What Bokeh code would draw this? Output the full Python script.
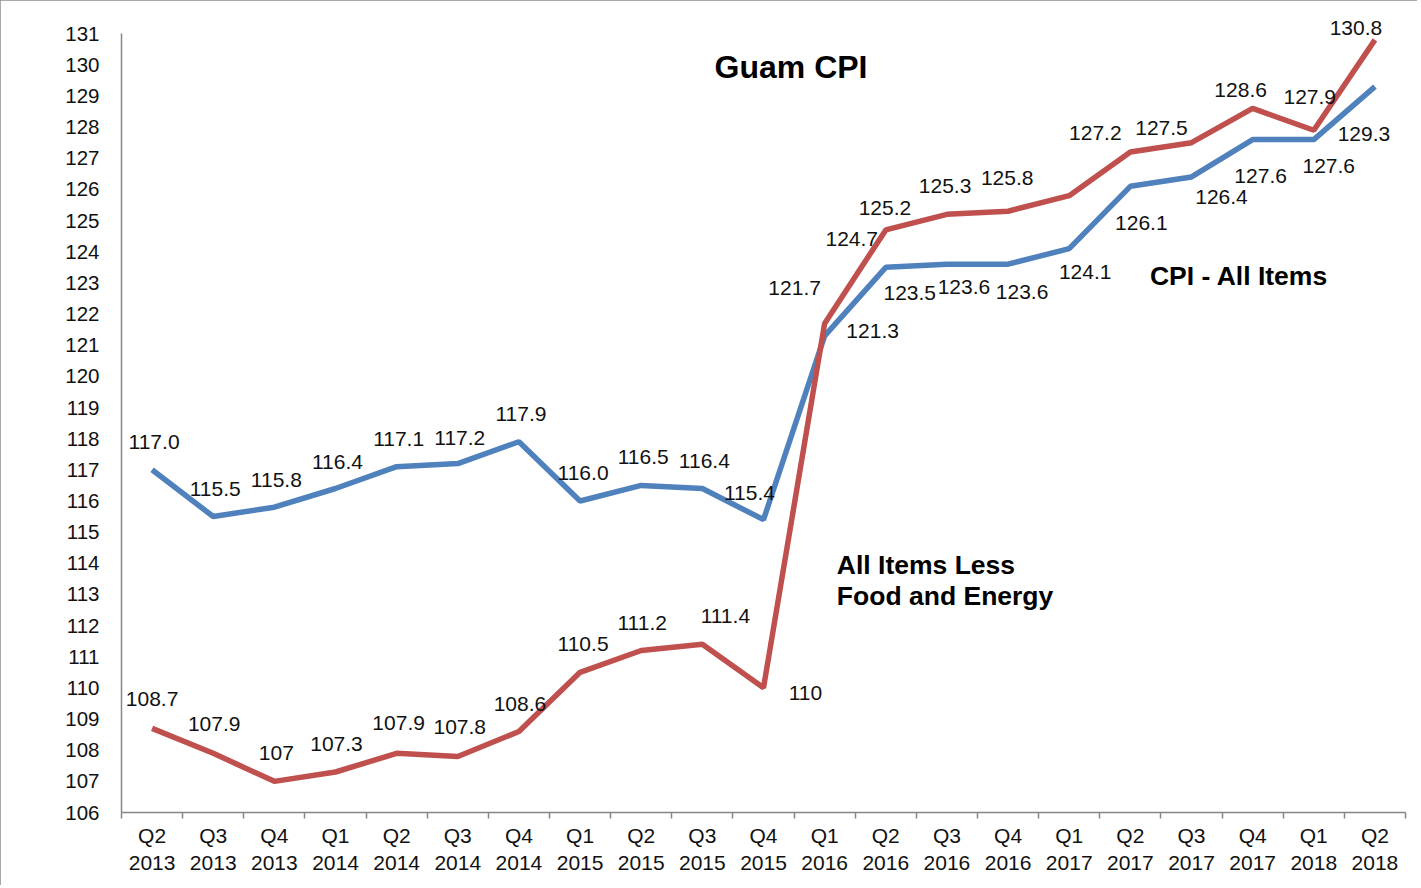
from bokeh.plotting import figure
from bokeh.models import FixedTicker, Range1d, ColumnDataSource, LabelSet
from bokeh.core.properties import value
from bokeh.embed import file_html
from bokeh.resources import INLINE

# ---- data ----
quarters = ["Q2", "Q3", "Q4", "Q1", "Q2", "Q3", "Q4", "Q1", "Q2", "Q3", "Q4",
            "Q1", "Q2", "Q3", "Q4", "Q1", "Q2", "Q3", "Q4", "Q1", "Q2"]
years = ["2013", "2013", "2013", "2014", "2014", "2014", "2014", "2015", "2015", "2015", "2015",
         "2016", "2016", "2016", "2016", "2017", "2017", "2017", "2017", "2018", "2018"]
cpi_all = [117.0, 115.5, 115.8, 116.4, 117.1, 117.2, 117.9, 116.0, 116.5, 116.4, 115.4,
           121.3, 123.5, 123.6, 123.6, 124.1, 126.1, 126.4, 127.6, 127.6, 129.3]
cpi_core = [108.7, 107.9, 107.0, 107.3, 107.9, 107.8, 108.6, 110.5, 111.2, 111.4, 110.0,
            121.7, 124.7, 125.2, 125.3, 125.8, 127.2, 127.5, 128.6, 127.9, 130.8]
y_ticks = list(range(106, 132))

# ---- label placement (screen pixel offsets, style only; dy positive = down) ----
blue_dx = [2, 2, 2, 2, 2, 2, 2, 3, 2, 2, -14, 48, 24, 17, 14, 16, 11, 30, 8, 15, -11]
blue_dy = [-28, -28, -27, -27, -28, -26, -28, -28, -28, -28, -27, -5, 26, 23, 28, 23, 37, 20, 36, 26, 47]
red_dx = [0, 1, 2, 1, 2, 2, 1, 3, 1, 23, 42, -30, -34, -62, -63, -62, -35, -30, -12, -4, -19]
red_dy = [-29, -29, -28, -28, -30, -29, -28, -28, -28, -28, 5, -35, 9, -6, -25, -18, -19, -15, -18, -33, -12]

BLUE = "#4f81bd"
RED = "#c0504d"
FONT = "Liberation Sans"

n = len(quarters)
xs = list(range(n))

# one extra unit of headroom above the top tick so the top label is not clipped
p = figure(width=1417, height=885, output_backend="svg", toolbar_location=None,
           x_range=Range1d(-0.5, n - 0.5), y_range=Range1d(y_ticks[0], y_ticks[-1] + 1),
           min_border_left=121, min_border_right=12, min_border_top=2, min_border_bottom=73)
p.background_fill_color = "white"
p.border_fill_color = "white"
p.outline_line_color = None
p.xgrid.grid_line_color = None
p.ygrid.grid_line_color = None
p.styles = {"outline": "2px solid #8c8c8c", "outline-offset": "-2px"}

# axes
p.xaxis.ticker = FixedTicker(ticks=xs, minor_ticks=[i - 0.5 for i in range(n + 1)])
p.xaxis.major_label_overrides = {i: f"{q}\n{y}" for i, (q, y) in enumerate(zip(quarters, years))}
p.xaxis.major_tick_line_color = None
p.xaxis.major_tick_out = 0
p.xaxis.major_tick_in = 0
p.xaxis.minor_tick_line_color = "#868686"
p.xaxis.minor_tick_line_width = 1.5
p.xaxis.minor_tick_out = 6
p.xaxis.minor_tick_in = 0
p.xaxis.major_label_standoff = 5
p.xaxis.major_label_text_font = FONT
p.xaxis.major_label_text_font_size = "21px"
p.xaxis.major_label_text_color = "#111111"
p.xaxis.axis_line_color = "#868686"
p.xaxis.axis_line_width = 1.5

p.yaxis.ticker = FixedTicker(ticks=y_ticks)
p.yaxis.bounds = (y_ticks[0], y_ticks[-1])
p.yaxis.major_tick_line_color = None
p.yaxis.minor_tick_line_color = None
p.yaxis.major_tick_out = 0
p.yaxis.major_tick_in = 0
p.yaxis.major_label_standoff = 22
p.yaxis.major_label_text_font = FONT
p.yaxis.major_label_text_font_size = "20.5px"
p.yaxis.major_label_text_color = "#111111"
p.yaxis.axis_line_color = "#868686"
p.yaxis.axis_line_width = 1.5

# lines
p.line(xs, cpi_all, line_color=BLUE, line_width=5.5)
p.line(xs, cpi_core, line_color=RED, line_width=5.5)

# data labels (LabelSet: y_offset positive = up)
blue_src = ColumnDataSource(dict(x=xs, y=cpi_all, t=[f"{v:.1f}" for v in cpi_all],
                                 dx=blue_dx, dy=[-d for d in blue_dy]))
red_src = ColumnDataSource(dict(x=xs, y=cpi_core, t=[f"{v:g}" for v in cpi_core],
                                dx=red_dx, dy=[-d for d in red_dy]))
for src in (blue_src, red_src):
    p.add_layout(LabelSet(x="x", y="y", text="t", x_offset="dx", y_offset="dy", source=src,
                          text_align="center", text_baseline="middle",
                          text_font=value(FONT), text_font_size="21px", text_color="#111111"))

# annotations
p.text(x=[10.45], y=[129.94], text=["Guam CPI"], text_align="center", text_baseline="middle",
       text_font=value(FONT), text_font_size="32px", text_font_style="bold", text_color="#000000")
p.text(x=[11.2, 11.2], y=[113.93, 112.96], text=["All Items Less", "Food and Energy"],
       text_align="left", text_baseline="middle",
       text_font=value(FONT), text_font_size="26.5px", text_font_style="bold", text_color="#000000")
p.text(x=[16.32], y=[123.23], text=["CPI - All Items"], text_align="left", text_baseline="middle",
       text_font=value(FONT), text_font_size="26.5px", text_font_style="bold", text_color="#000000")

open("out.html", "w").write(file_html(p, INLINE))
